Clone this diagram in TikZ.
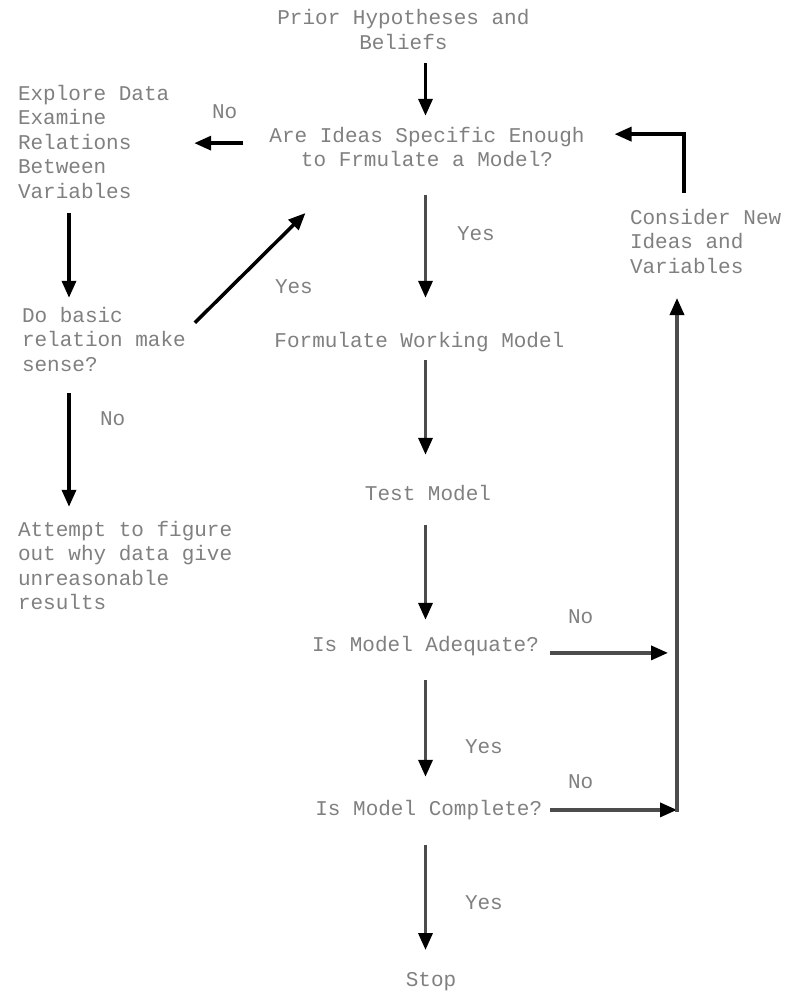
\documentclass[tikz,border=0pt]{standalone}
\usepackage{fontspec}
\setmonofont{Liberation Mono}
\usetikzlibrary{arrows.meta}
\newcommand\ctext[1]{\vtop{\baselineskip=24.5pt\halign{\hfil\vrule height15pt depth5pt width0pt\relax##\hfil\cr#1\crcr}}}
\newcommand\ltext[1]{\vtop{\baselineskip=24.5pt\halign{\vrule height15pt depth5pt width0pt\relax##\hfil\cr#1\crcr}}}
\tikzset{
  txt/.style={font=\ttfamily\fontsize{21}{24.5}\selectfont, text=black!50, inner sep=0pt, outer sep=0pt},
  flowk/.style={line width=3.5pt, draw=black, -{Triangle[length=17pt,width=14pt,color=black]}},
  flowg/.style={line width=3.5pt, draw=black!70, -{Triangle[length=17pt,width=14pt,color=black]}},
}
\begin{document}
\begin{tikzpicture}[x=1pt,y=-1pt]
\fill[white] (0,0) rectangle (787,993);
\useasboundingbox (0,0) rectangle (787,993);

% nodes
\node[txt, anchor=base] (prior) at (403.4,24.5) {\ctext{Prior Hypotheses and\cr Beliefs}};
\node[txt, anchor=base] (are) at (427,142) {\ctext{Are Ideas Specific Enough\cr to Frmulate a Model?}};
\node[txt, anchor=base west] (explore) at (18,100) {\ltext{Explore Data\cr Examine\cr Relations\cr Between\cr Variables}};
\node[txt, anchor=base west] (dobasic) at (22,322) {\ltext{Do basic\cr relation make\cr sense?}};
\node[txt, anchor=base west] (attempt) at (18,536) {\ltext{Attempt to figure\cr out why data give\cr unreasonable\cr results}};
\node[txt, anchor=base] (formulate) at (419.4,347) {\ctext{Formulate Working Model}};
\node[txt, anchor=base] (test) at (428,500) {\ctext{Test Model}};
\node[txt, anchor=base] (adequate) at (425.5,651) {\ctext{Is Model Adequate?}};
\node[txt, anchor=base] (complete) at (428.8,815) {\ctext{Is Model Complete?}};
\node[txt, anchor=base] (stop) at (431,986) {\ctext{Stop}};
\node[txt, anchor=base west] (consider) at (630,224) {\ltext{Consider New\cr Ideas and\cr Variables}};

% labels
\node[txt, anchor=base west] (no1) at (212,118) {No};
\node[txt, anchor=base west] (yes1) at (457,240) {Yes};
\node[txt, anchor=base west] (yes2) at (275,293) {Yes};
\node[txt, anchor=base west] (no2) at (100,425) {No};
\node[txt, anchor=base west] (no3) at (568,623) {No};
\node[txt, anchor=base west] (yes3) at (465,753) {Yes};
\node[txt, anchor=base west] (no4) at (568,788) {No};
\node[txt, anchor=base west] (yes4) at (465,909) {Yes};

% central column
\draw[flowk, shorten <=9pt, shorten >=11pt] (prior.south -| adequate.center) -- (are.north -| adequate.center);
\draw[flowg, shorten <=23.5pt, shorten >=34pt] (are.south -| adequate.center) -- (formulate.north -| adequate.center);
\draw[flowg, shorten <=8pt, shorten >=30pt] (formulate.south -| adequate.center) -- (test.north -| adequate.center);
\draw[flowg, shorten <=20pt, shorten >=16pt] (test.south -| adequate.center) -- (adequate.north);
\draw[flowg, shorten <=24pt, shorten >=23pt] (adequate.south) -- (complete.north -| adequate.center);
\draw[flowg, shorten <=25pt, shorten >=21pt] (complete.south -| adequate.center) -- (stop.north -| adequate.center);

% left side
\coordinate (a1) at ([shift={(0,-6)}]are.west);
\draw[flowk, shorten <=26pt, shorten >=25pt] (a1) -- (a1 -| explore.east);
\coordinate (c1) at ([shift={(51,0)}]explore.south west);
\draw[flowk, shorten <=10pt, shorten >=9pt] (c1) -- (c1 |- dobasic.north);
\draw[flowk, shorten <=17pt, shorten >=14pt] (c1 |- dobasic.south) -- (c1 |- attempt.north);
\coordinate (d1) at ([shift={(9,16)}]dobasic.north east);
\coordinate (d2) at ([shift={(36,41.5)}]are.south west);
\draw[flowk] (d1) -- (d2);

% right side
\coordinate (v) at ([shift={(47,0)}]consider.south west);
\coordinate (e1) at ([shift={(0,7)}]adequate.east);
\draw[flowg, shorten <=11pt, shorten >=9pt] (e1) -- (e1 -| v);
\draw[flowg, shorten <=8pt] (complete.east) -- (complete.east -| v);
\coordinate (f0) at (complete.east -| v);
\coordinate (f1) at ([shift={(0,1.75)}]f0);
\draw[flowg, shorten >=20pt] (f1) -- (v);
\coordinate (u) at ([shift={(54,-16)}]consider.north west);
\coordinate (a2) at ([shift={(0,-15)}]are.east);
\draw[flowk, shorten >=30pt] (u) |- (a2);
\end{tikzpicture}
\end{document}
